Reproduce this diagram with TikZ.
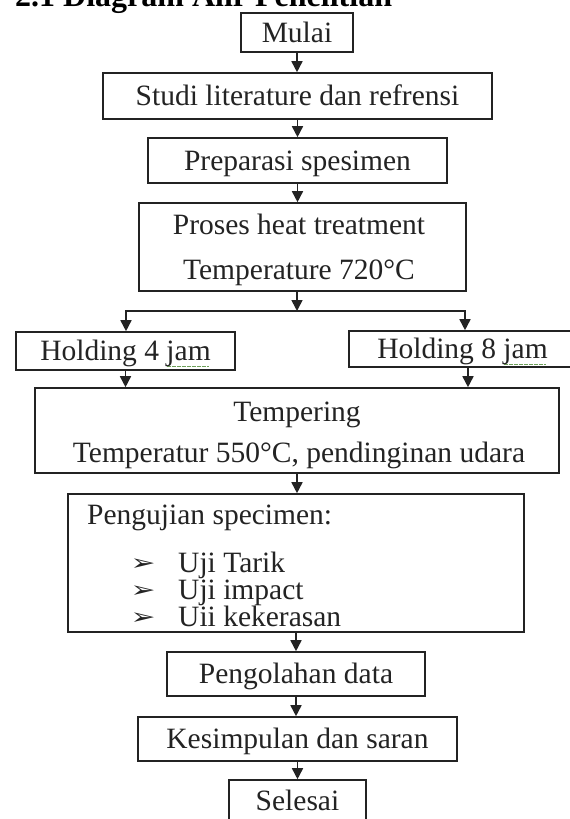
\documentclass[tikz,border=0pt]{standalone}
\usepackage{fontspec}
\setmainfont{Liberation Serif}
\newfontfamily\symfont{DejaVu Sans}
\usetikzlibrary{arrows.meta}
\definecolor{spell}{RGB}{110,160,90}
\definecolor{ink}{RGB}{35,35,35}
\newcommand\spellmark[1]{\setbox0=\hbox{#1}\rlap{\raisebox{-6pt}{\textcolor{spell}{\leaders\hbox to 2.5pt{\hss\rule{1.6pt}{1pt}\hss}\hskip\wd0}}}\box0}
\begin{document}
\begin{tikzpicture}[x=1pt,y=-1pt,
  box/.style={draw=ink,line width=1.6pt,inner sep=0pt,text=ink,font=\fontsize{29.5}{34}\selectfont,text height=21pt,text depth=2pt},
  txt/.style={inner sep=0pt,text=ink,font=\fontsize{29.5}{34}\selectfont,text height=21pt,text depth=2pt},
  bul/.style={inner sep=0pt,text=ink,font=\symfont\fontsize{22}{24}\selectfont},
  arr/.style={draw=ink,line width=1.6pt,-{Triangle[length=11pt,width=11pt]}}]
\useasboundingbox (0,0) rectangle (570,819);
\fill[white] (0,0) rectangle (570,819);
% title (cut off at top, as in the reference)
\node[anchor=base west,inner sep=0pt,font=\fontsize{32}{36}\selectfont\bfseries] (title) at (15,6) {2.1 Diagram Alir Penelitian};
% boxes
\node[box,minimum width=112pt,minimum height=39pt] (mulai) at (297,32.5) {Mulai};
\node[box,minimum width=389pt,minimum height=46pt] (studi) at (297.5,96) {Studi literature dan refrensi};
\node[box,minimum width=299pt,minimum height=45pt] (prep) at (297.5,160.5) {Preparasi spesimen};
\node[box,minimum width=327pt,minimum height=88pt] (proses) at (302.5,247) {};
\node[txt] (proses1) at (299,225) {Proses heat treatment};
\node[txt] (proses2) at (299,270) {Temperature 720°C};
\node[box,minimum width=219pt,minimum height=38pt] (h4) at (125.5,351) {Holding 4 \spellmark{jam}};
\node[box,minimum width=227pt,minimum height=36pt] (h8) at (462.5,349) {Holding 8 \spellmark{jam}};
\node[box,minimum width=524pt,minimum height=85pt] (temper) at (297,430.5) {};
\node[txt] (temper1) at (297,412) {Tempering};
\node[txt] (temper2) at (299,453) {Temperatur 550°C, pendinginan udara};
\node[box,minimum width=456pt,minimum height=138pt] (uji) at (296,563) {};
\node[txt,anchor=west] (uji0) at (87,515) {Pengujian specimen:};
\node[bul] (b1) at (143,565) {\scalebox{1.35}[1]{➢}};
\node[bul] (b2) at (143,592) {\scalebox{1.35}[1]{➢}};
\node[bul] (b3) at (143,619) {\scalebox{1.35}[1]{➢}};
\node[txt,anchor=west] (u1) at (178,563) {Uji Tarik};
\node[txt,anchor=west] (u2) at (178,590) {Uji impact};
\node[txt,anchor=west] (u3) at (178,617) {Uii kekerasan};
\node[box,minimum width=258pt,minimum height=44pt] (olah) at (296,674) {Pengolahan data};
\node[box,minimum width=319pt,minimum height=44pt] (kes) at (297.5,739) {Kesimpulan dan saran};
\node[box,minimum width=137pt,minimum height=42pt] (selesai) at (297.5,801) {Selesai};
% connectors
\coordinate (bj) at (297,311);
\coordinate (bl) at (126,311);
\coordinate (br) at (465,311);
\coordinate (h8a) at (468,0);
\draw[arr] (mulai.south) -- (mulai.south |- studi.north);
\draw[arr] (studi.south) -- (studi.south |- prep.north);
\draw[arr] (prep.south) -- (prep.south |- proses.north);
\draw[arr] (bj |- proses.south) -- (bj);
\draw[arr] (bj) -| (bl |- h4.north);
\draw[arr] (bj) -| (br |- h8.north);
\draw[arr] (h4.south) -- (h4.south |- temper.north);
\draw[arr] (h8a |- h8.south) -- (h8a |- temper.north);
\draw[arr] (temper.south) -- (temper.south |- uji.north);
\draw[arr] (uji.south) -- (uji.south |- olah.north);
\draw[arr] (olah.south) -- (olah.south |- kes.north);
\draw[arr] (kes.south) -- (kes.south |- selesai.north);
\end{tikzpicture}
\end{document}
